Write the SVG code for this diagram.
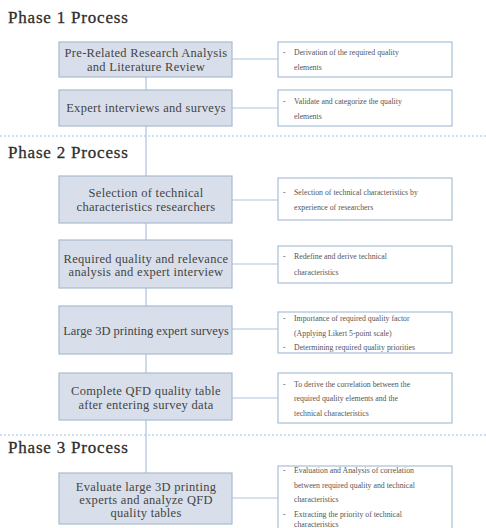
<svg xmlns="http://www.w3.org/2000/svg" width="486" height="528" viewBox="0 0 486 528">
<style>
.ph{font-family:"Liberation Serif","DejaVu Serif",serif;font-size:17px;fill:#2e2e2e;letter-spacing:0.8px;stroke:#2e2e2e;stroke-width:0.3}
.lb rect{fill:#d8dfea;stroke:#a9bbd1;stroke-width:1.2}
.lb text{font-family:"Liberation Serif","DejaVu Serif",serif;font-size:12.5px;fill:#444;text-anchor:middle;letter-spacing:0.3px}
.rb rect{fill:#fff;stroke:#a9bfd8;stroke-width:1.2}
.rb text{font-family:"Liberation Serif","DejaVu Serif",serif;font-size:7.8px;fill:#555}
.c line{stroke:#a9c3de;stroke-width:1.2}
.sep{stroke:#9cc0e4;stroke-width:1.2;stroke-dasharray:2 2}
</style>
<rect width="486" height="528" fill="#fff"/>
<text class="ph" x="8" y="23">Phase 1 Process</text>
<text class="ph" x="8" y="158">Phase 2 Process</text>
<text class="ph" x="8" y="453">Phase 3 Process</text>
<line class="sep" x1="0" y1="136" x2="486" y2="136"/>
<line class="sep" x1="0" y1="435" x2="486" y2="435"/>
<g class="c">
<line x1="146" y1="77" x2="146" y2="90"/>
<line x1="146" y1="126" x2="146" y2="176"/>
<line x1="146" y1="223" x2="146" y2="240"/>
<line x1="146" y1="288" x2="146" y2="306"/>
<line x1="146" y1="354" x2="146" y2="373"/>
<line x1="146" y1="420" x2="146" y2="473"/>
<line x1="232" y1="59" x2="278" y2="59"/>
<line x1="232" y1="108" x2="278" y2="108"/>
<line x1="232" y1="200" x2="278" y2="200"/>
<line x1="232" y1="264" x2="278" y2="264"/>
<line x1="232" y1="329" x2="278" y2="329"/>
<line x1="232" y1="398" x2="278" y2="398"/>
<line x1="232" y1="498" x2="278" y2="498"/>
</g>
<g id="n1" class="lb"><rect x="59" y="42" width="173" height="35"/><text x="146" y="57">Pre-Related Research Analysis</text><text x="146" y="71">and Literature Review</text></g>
<g id="n2" class="lb"><rect x="59" y="90" width="173" height="36"/><text x="146" y="112">Expert interviews and surveys</text></g>
<g id="n3" class="lb"><rect x="59" y="176" width="173" height="47"/><text x="146" y="197">Selection of technical</text><text x="146" y="211">characteristics researchers</text></g>
<g id="n4" class="lb"><rect x="59" y="240" width="173" height="48"/><text x="146" y="263">Required quality and relevance</text><text x="146" y="276">analysis and expert interview</text></g>
<g id="n5" class="lb"><rect x="59" y="306" width="173" height="48"/><text x="146" y="335" style="letter-spacing:0">Large 3D printing expert surveys</text></g>
<g id="n6" class="lb"><rect x="59" y="373" width="173" height="47"/><text x="146" y="395">Complete QFD quality table</text><text x="146" y="409">after entering survey data</text></g>
<g id="n7" class="lb"><rect x="59" y="473" width="173" height="51"/><text x="146" y="491">Evaluate large 3D printing</text><text x="146" y="504">experts and analyze QFD</text><text x="146" y="517">quality tables</text></g>
<g id="r1" class="rb"><rect x="278" y="42" width="174" height="35"/><text x="283" y="55">-</text><text x="294" y="55">Derivation of the required quality</text><text x="294" y="70">elements</text></g>
<g id="r2" class="rb"><rect x="278" y="90" width="174" height="36"/><text x="283" y="104">-</text><text x="294" y="104">Validate and categorize the quality</text><text x="294" y="119">elements</text></g>
<g id="r3" class="rb"><rect x="278" y="178" width="174" height="42"/><text x="283" y="195">-</text><text x="294" y="195">Selection of technical characteristics by</text><text x="294" y="210">experience of researchers</text></g>
<g id="r4" class="rb"><rect x="278" y="246" width="174" height="37"/><text x="283" y="259">-</text><text x="294" y="259">Redefine and derive technical</text><text x="294" y="275">characteristics</text></g>
<g id="r5" class="rb"><rect x="278" y="312" width="174" height="41"/><text x="283" y="321">-</text><text x="294" y="321">Importance of required quality factor</text><text x="294" y="336">(Applying Likert 5-point scale)</text><text x="283" y="350">-</text><text x="294" y="350">Determining required quality priorities</text></g>
<g id="r6" class="rb"><rect x="278" y="373" width="174" height="50"/><text x="283" y="387">-</text><text x="294" y="387">To derive the correlation between the</text><text x="294" y="401">required quality elements and the</text><text x="294" y="416">technical characteristics</text></g>
<g id="r7" class="rb"><rect x="278" y="466" width="174" height="75"/><text x="283" y="473">-</text><text x="294" y="473">Evaluation and Analysis of correlation</text><text x="294" y="488">between required quality and technical</text><text x="294" y="502">characteristics</text><text x="283" y="517">-</text><text x="294" y="517">Extracting the priority of technical</text><text x="294" y="527">characteristics</text></g>
</svg>
